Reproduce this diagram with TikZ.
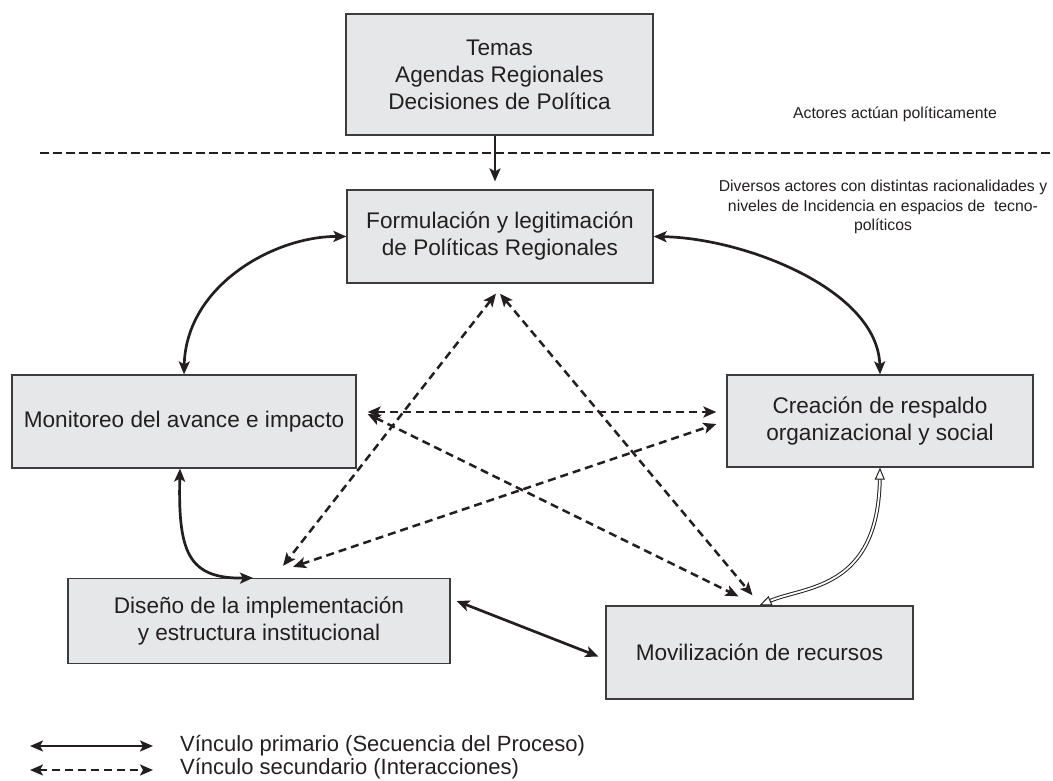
\documentclass[tikz,border=0pt]{standalone}
\usepackage{fontspec}
\setmainfont{Liberation Sans}
\usetikzlibrary{arrows.meta}
\definecolor{boxfill}{RGB}{230,231,232}
\definecolor{boxline}{RGB}{60,60,62}
\definecolor{ink}{RGB}{35,31,32}
\begin{document}
\begin{tikzpicture}[x=1pt,y=-1pt,
  box/.style={draw=boxline, fill=boxfill, line width=1.2pt, align=center, inner sep=0pt,
    text=ink, font=\fontsize{22.6}{27}\selectfont},
  small/.style={align=center, text=ink, inner sep=0pt, font=\fontsize{15.8}{19.5}\selectfont},
  legtext/.style={anchor=west, text=ink, inner sep=0pt, font=\fontsize{22}{23}\selectfont},
  tip/.tip={Stealth[length=13pt,width=11pt,inset=3pt]},
  primary/.style={draw=ink, line width=2.7pt, tip-tip},
  secondary/.style={draw=ink, line width=2.5pt, dash pattern=on 8pt off 5pt, tip-tip},
  dbl/.style={draw=ink, double=white, double distance=1.8pt, line width=1pt,
    {Triangle[open,length=12pt,width=10pt]}-{Triangle[open,length=12pt,width=10pt]}},
  sepline/.style={draw=ink, line width=1.1pt, dash pattern=on 9pt off 4pt}
]
\useasboundingbox (0,0) rectangle (1053,780);

% boxes
\node[box, minimum width=307pt, minimum height=121pt] (temas) at (499.5,74.5)
  {Temas\\Agendas Regionales\\Decisiones de Política};
\node[box, minimum width=306pt, minimum height=93pt] (form) at (500,236.5)
  {Formulación y legitimación\\de Políticas Regionales};
\node[box, minimum width=344pt, minimum height=93pt] (monit) at (184,421.5)
  {Monitoreo del avance e impacto};
\node[box, minimum width=306pt, minimum height=92pt] (crea) at (880,421)
  {Creación de respaldo\\organizacional y social};
\node[box, minimum width=382pt, minimum height=85pt] (dis) at (259,621)
  {Diseño de la implementación\\y estructura institucional};
\node[box, minimum width=307pt, minimum height=93pt] (movi) at (759.5,652.5)
  {Movilización de recursos};

% annotations
\node[small] (actores) at (895,114) {Actores actúan políticamente};
\node[small] (diversos) at (883,207)
  {Diversos actores con distintas racionalidades y\\niveles de Incidencia en espacios de \ tecno-\\políticos};

% separator
\coordinate (sepL) at (40,153);
\coordinate (sepR) at (1053,153);
\draw[sepline] (sepL) -- (sepR);

% temas -> formulacion
\draw[draw=ink, line width=2.7pt, -tip] ([xshift=-4.5pt]temas.south) -- ([xshift=-5pt,yshift=8pt]form.north);

% primary links
\draw[primary] (form.west) .. controls (275,236) and (186,285) .. (monit.north);
\draw[primary] (form.east) .. controls (745,238) and (878,290) .. (crea.north);
\draw[primary] ([xshift=-4pt]monit.south) .. controls (178,552) and (188,579) .. ([xshift=-6pt]dis.north);
\draw[primary] ([xshift=6pt,yshift=20pt]dis.east) -- ([xshift=-7pt,yshift=-4pt]movi.west);
\draw[dbl] (crea.south) .. controls (878,590) and (805,586) .. (movi.north);

% secondary links
\draw[secondary] ([xshift=-4pt,yshift=-10pt]form.south) -- ([xshift=24pt,yshift=12pt]dis.north);
\draw[secondary] ([xshift=0pt,yshift=-10pt]form.south) -- ([xshift=-7pt,yshift=10pt]movi.north);
\draw[secondary] ([xshift=11pt,yshift=9.5pt]monit.east) -- ([xshift=-10pt,yshift=9pt]crea.west);
\draw[secondary] ([xshift=11pt,yshift=7.5pt]monit.east) -- ([xshift=-21pt,yshift=9pt]movi.north);
\draw[secondary] ([xshift=34pt,yshift=11pt]dis.north) -- ([xshift=-10pt,yshift=-3pt]crea.west);

% legend
\coordinate (l1a) at (30,746);
\coordinate (l1b) at (153,746);
\coordinate (l2a) at (30,770);
\coordinate (l2b) at (153,770);
\draw[primary, line width=2.2pt] (l1a) -- (l1b);
\draw[secondary, line width=2.2pt] (l2a) -- (l2b);
\node[legtext] (leg1) at (180,746) {Vínculo primario (Secuencia del Proceso)};
\node[legtext] (leg2) at (180,769) {Vínculo secundario (Interacciones)};
\end{tikzpicture}
\end{document}
